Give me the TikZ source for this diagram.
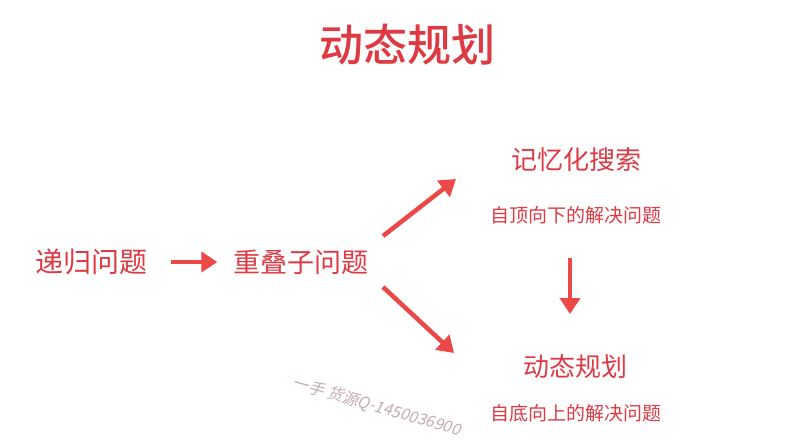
\documentclass[tikz,border=0pt]{standalone}
\usepackage{fontspec}
\setmainfont{Noto Sans CJK SC}
\newfontfamily\cjk{Noto Sans CJK SC}
\newfontfamily\cjkbold{Noto Sans CJK SC Medium}
\usetikzlibrary{arrows.meta}
\definecolor{txtred}{RGB}{222,58,68}
\definecolor{arrred}{RGB}{236,72,72}
\definecolor{wmark}{RGB}{196,172,180}
\tikzset{
  lbl/.style={text=txtred, inner sep=0pt, font=\cjk\fontsize{#1}{#1}\selectfont},
  bigarrow/.style={draw=arrred, line width=4.5pt,
    -{Triangle[length=16pt,width=20pt]}},
}
\begin{document}
\begin{tikzpicture}[x=1pt,y=-1pt]
\useasboundingbox[fill=white] (0,0) rectangle (787,445);
\node[text=txtred, inner sep=0pt, font=\cjkbold\fontsize{44}{44}\selectfont] (title) at (407,45) {动态规划};
\node[lbl=28] (rec) at (91,262) {递归问题};
\node[lbl=27] (ovl) at (301,262) {重叠子问题};
\node[lbl=26] (memo) at (576,160) {记忆化搜索};
\node[lbl=19] (memod) at (576,215) {自顶向下的解决问题};
\node[lbl=26] (dp) at (575,367) {动态规划};
\node[lbl=19] (dpd) at (576,413) {自底向上的解决问题};
\coordinate (a1s) at (383,236);
\coordinate (a1e) at (456,179);
\coordinate (a2s) at (383,287);
\coordinate (a2e) at (454,353);
\coordinate (a3s) at (570,258);
\coordinate (a3e) at (570,314);
\draw[bigarrow] ([xshift=24pt]rec.east) -- ([xshift=-16pt]ovl.west);
\draw[bigarrow] (a1s) -- (a1e);
\draw[bigarrow] (a2s) -- (a2e);
\draw[bigarrow] (a3s) -- (a3e);
\node[text=wmark, font=\cjk\fontsize{16}{16}\selectfont, rotate=-16, xslant=0.2, inner sep=0pt] (wm) at (378,407) {一手 货源Q-1450036900};
\end{tikzpicture}
\end{document}
